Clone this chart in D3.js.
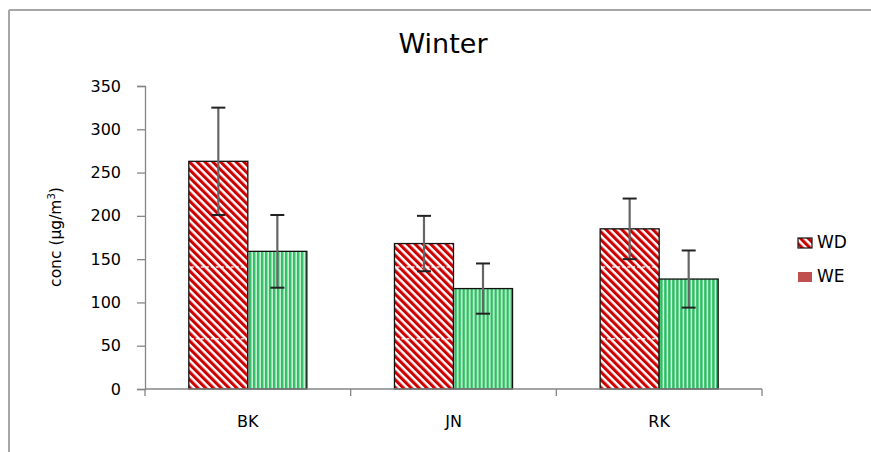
<!DOCTYPE html>
<html><head><meta charset="utf-8">
<script src="https://cdn.jsdelivr.net/npm/d3@7"></script>
<style>body{margin:0;background:#fff}svg{display:block}text{font-family:"DejaVu Sans",sans-serif;fill:#000}</style>
</head><body><svg id="c" width="871" height="452"></svg>
<script>
const categories = ["BK", "JN", "RK"];
const seriesNames = ["WD", "WE"];
const wdValues = [263, 168, 185];
const wdErrors = [62, 32, 35];
const weValues = [159, 116, 127];
const weErrors = [42, 29, 33];
const yTicks = [0, 50, 100, 150, 200, 250, 300, 350];
const patternArtifactLevels = [58, 141];
const title = "Winter";

const svg = d3.select("#c");
const defs = svg.append("defs");
const pr = defs.append("pattern").attr("id","redHatch").attr("patternUnits","userSpaceOnUse")
  .attr("width",5.5).attr("height",5.5).attr("patternTransform","rotate(-45)");
pr.append("rect").attr("width",5.5).attr("height",5.5).attr("fill","#fff");
pr.append("rect").attr("width",3.1).attr("height",5.5).attr("fill","#cc0000");
const pg = defs.append("pattern").attr("id","greenStripe").attr("patternUnits","userSpaceOnUse")
  .attr("width",4).attr("height",4);
pg.append("rect").attr("width",4).attr("height",4).attr("fill","#e8faee");
pg.append("rect").attr("width",2.6).attr("height",4).attr("fill","#2bbf62");

svg.append("line").attr("x1",9).attr("x2",9).attr("y1",10).attr("y2",452).attr("stroke","#a6a6a6").attr("stroke-width",2);
svg.append("line").attr("x1",9).attr("x2",871).attr("y1",10).attr("y2",10).attr("stroke","#a6a6a6").attr("stroke-width",2);

const mLeft = 145, mRight = 762, mTop = 86, mBottom = 389;
const pad = 0.426;
const x = d3.scaleBand().domain(categories).range([mLeft, mRight]).paddingInner(pad).paddingOuter(pad/2);
const xs = d3.scaleBand().domain(seriesNames).range([0, x.bandwidth()]);
const y = d3.scaleLinear().domain([0, 350]).range([mBottom, mTop]);

const data = categories.map((c,i)=>({c, vals:[
  {s:"WD", v:wdValues[i], e:wdErrors[i], fill:"url(#redHatch)"},
  {s:"WE", v:weValues[i], e:weErrors[i], fill:"url(#greenStripe)"}]}));

const yAxis = d3.axisLeft(y).tickValues(yTicks).tickSize(8).tickPadding(16);
const gy = svg.append("g").attr("transform",`translate(${mLeft},0)`).call(yAxis);
gy.select(".domain").attr("stroke","#868686").attr("stroke-width",1.3);
gy.selectAll(".tick line").attr("stroke","#868686").attr("stroke-width",1.3);
gy.selectAll(".tick text").style("font-size","16px").style("font-family","DejaVu Sans").attr("fill","#000");

const groups = svg.append("g").selectAll("g").data(data).join("g")
  .attr("transform",d=>`translate(${x(d.c)},0)`);
groups.selectAll("rect").data(d=>d.vals).join("rect")
  .attr("x",d=>xs(d.s)).attr("width",xs.bandwidth())
  .attr("y",d=>y(d.v)).attr("height",d=>y(0)-y(d.v))
  .attr("fill",d=>d.fill).attr("stroke","#111").attr("stroke-width",1.3);

groups.each(function(d){
  const g = d3.select(this);
  const wd = d.vals[0];
  patternArtifactLevels.forEach(l=>{
    if (l < wd.v) g.append("line").attr("x1",xs("WD")+2).attr("x2",xs("WD")+xs.bandwidth()-2)
      .attr("y1",y(l)).attr("y2",y(l)).attr("stroke","#fff").attr("stroke-width",1.5)
      .attr("stroke-dasharray","3,2").attr("opacity",0.85);
  });
});

groups.selectAll("g.err").data(d=>d.vals).join("g").attr("class","err").each(function(d){
  const g = d3.select(this);
  const cx = xs(d.s) + xs.bandwidth()/2;
  g.append("line").attr("x1",cx).attr("x2",cx).attr("y1",y(d.v+d.e)).attr("y2",y(d.v-d.e))
    .attr("stroke","#666").attr("stroke-width",2.2);
  [d.v+d.e, d.v-d.e].forEach(v=>g.append("line").attr("x1",cx-7).attr("x2",cx+7)
    .attr("y1",y(v)).attr("y2",y(v)).attr("stroke","#222").attr("stroke-width",2));
});

svg.append("line").attr("x1",mLeft).attr("x2",mRight).attr("y1",mBottom).attr("y2",mBottom)
  .attr("stroke","#868686").attr("stroke-width",1.3);
const step = x.step();
const bounds = [0,1,2,3].map(i=> i===0 ? mLeft : (i===3 ? mRight : x(categories[i]) - step*pad/2));
svg.append("g").selectAll("line").data(bounds).join("line")
  .attr("x1",d=>d).attr("x2",d=>d).attr("y1",mBottom).attr("y2",mBottom+7)
  .attr("stroke","#868686").attr("stroke-width",1.3);
svg.append("g").selectAll("text").data(categories).join("text")
  .attr("x",d=>x(d)+x.bandwidth()/2).attr("y",427).attr("text-anchor","middle")
  .style("font-size","16px").text(d=>d);

svg.append("text").attr("x",443).attr("y",53).attr("text-anchor","middle").style("font-size","27px").text(title);

const yt = svg.append("text").attr("transform","translate(61,237) rotate(-90)").attr("text-anchor","middle").style("font-size","15.5px");
yt.append("tspan").text("conc (µg/m");
yt.append("tspan").attr("dy",-6).style("font-size","10px").text("3");
yt.append("tspan").attr("dy",6).text(")");

const leg = svg.append("g");
const legendFills = ["url(#redHatch)", "#c0504d"];
seriesNames.forEach((s,i)=>{
  const yy = 238 + i*34;
  leg.append("rect").attr("x",798).attr("y",yy).attr("width",14).attr("height",10)
    .attr("fill",legendFills[i]).attr("stroke",i===0?"#111":"none").attr("stroke-width",1.2);
  leg.append("text").attr("x",817).attr("y",yy+10).style("font-size","17px").text(s);
});
</script></body></html>
